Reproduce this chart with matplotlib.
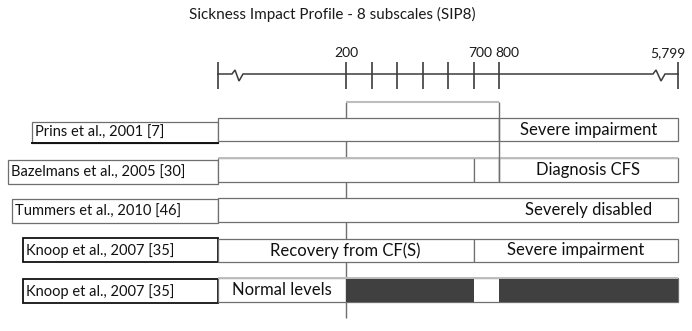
import numpy as np
import matplotlib
matplotlib.use("Agg")
import matplotlib.pyplot as plt
from matplotlib.patches import Rectangle

# ---------------- data ----------------
title = "Sickness Impact Profile - 8 subscales (SIP8)"
score_min, score_max = 0, 5799
minor_ticks = [200, 300, 400, 500, 600, 700, 800]
tick_labels = {200: "200", 700: "700", 800: "800", 5799: "5,799"}
studies = ["Prins et al., 2001 [7]", "Bazelmans et al., 2005 [30]",
           "Tummers et al., 2010 [46]", "Knoop et al., 2007 [35]",
           "Knoop et al., 2007 [35]"]
row_bounds = [[0, 800, 5799], [0, 700, 800, 5799], [0, 5799],
              [0, 700, 5799], [0, 200, 5799]]
row_texts = [[(800, 5799, "Severe impairment")],
             [(800, 5799, "Diagnosis CFS")],
             [(800, 5799, "Severely disabled")],
             [(0, 700, "Recovery from CF(S)"), (700, 5799, "Severe impairment")],
             [(0, 200, "Normal levels")]]
dark_segments = [(200, 700), (800, 5799)]   # last row
bracket = (200, 800)

# ---------------- layout ----------------
W, H = 692, 331
anchor_s = [0, 200, 800, 5799]
anchor_p = [218, 346, 499, 678]
sl_left = (anchor_p[1] - anchor_p[0]) / (anchor_s[1] - anchor_s[0])
sl_right = (anchor_p[3] - anchor_p[2]) / (anchor_s[3] - anchor_s[2])


def fwd(s):
    s = np.asarray(s, dtype=float)
    p = np.interp(s, anchor_s, anchor_p)
    p = np.where(s < anchor_s[0], anchor_p[0] + (s - anchor_s[0]) * sl_left, p)
    p = np.where(s > anchor_s[-1], anchor_p[-1] + (s - anchor_s[-1]) * sl_right, p)
    return p


def inv(p):
    p = np.asarray(p, dtype=float)
    s = np.interp(p, anchor_p, anchor_s)
    s = np.where(p < anchor_p[0], anchor_s[0] + (p - anchor_p[0]) / sl_left, s)
    s = np.where(p > anchor_p[-1], anchor_s[-1] + (p - anchor_p[-1]) / sl_right, s)
    return s


plt.rcParams['font.family'] = ['Lato', 'DejaVu Sans']
fig = plt.figure(figsize=(W / 100, H / 100), dpi=100)
fig.patch.set_facecolor("white")

deco = fig.add_axes([0, 0, 1, 1])
deco.set_xlim(0, W)
deco.set_ylim(H, 0)
deco.axis("off")

ax = fig.add_axes([0, 0, 1, 1])
ax.patch.set_alpha(0)
ax.set_xscale("function", functions=(fwd, inv))
ax.set_xlim(float(inv(0)), float(inv(W)))
ax.set_ylim(H, 0)
ax.axis("off")

line_c = "#3c3c3c"
box_c = "#6f6f6f"
light_c = "#bdbdbd"
row_y = [129.5, 170, 210, 250.5, 290]
row_h = 23.5
label_left = [32, 8, 12, 23, 23]
label_y = [132.5, 172, 211, 250, 291]
label_h = [21, 23.5, 23.5, 24, 24]
axis_y = 74

# title
deco.text(332, 14, title, ha="center", va="center", fontsize=11, color="#1a1a1a")

# axis line with breaks
x0, x1 = float(fwd(score_min)), float(fwd(score_max))
zz = [(x0, axis_y), (x0 + 14, axis_y), (x0 + 17, axis_y - 4), (x0 + 21, axis_y + 7),
      (x0 + 25, axis_y), (x1 - 25, axis_y), (x1 - 22, axis_y - 4),
      (x1 - 17, axis_y + 7), (x1 - 13, axis_y), (x1, axis_y)]
deco.plot([p[0] for p in zz], [p[1] for p in zz], color=line_c, lw=1.1,
          solid_joinstyle="miter")

# ticks
all_ticks = [score_min] + minor_ticks + [score_max]
ax.vlines(all_ticks, 62, 89, color=line_c, lw=1.2)
offsets = {200: 0, 700: 5, 800: 6, 5799: -7}
for s, lab in tick_labels.items():
    ax.annotate(lab, (s, 53), xytext=(offsets[s], 0), textcoords="offset points",
                ha="center", va="center", fontsize=10, color="#1a1a1a")

# bracket and reference lines
ax.hlines(102, bracket[0], bracket[1], color=light_c, lw=1.5, zorder=2)
ax.vlines(bracket[0], 102, 318, color=box_c, lw=1.0, zorder=1)
ax.vlines(bracket[1], 102, 182, color=box_c, lw=1.0, zorder=6)

# rows
for i, name in enumerate(studies):
    y = row_y[i]
    b = row_bounds[i]
    for lo, hi in zip(b[:-1], b[1:]):
        ax.barh(y, hi - lo, left=lo, height=row_h, color="white",
                edgecolor=box_c, lw=0.9, zorder=3)
    for lo, hi, txt in row_texts[i]:
        cx = float(inv((fwd(lo) + fwd(hi)) / 2))
        ax.text(cx, y, txt, ha="center", va="center", fontsize=12,
                color="#111111", zorder=7)
    # label box
    lx, ly, lh = label_left[i], label_y[i], label_h[i]
    knoop = i >= 3
    deco.add_patch(Rectangle((lx, ly - lh / 2), x0 - lx, lh, facecolor="white",
                             edgecolor="#111111" if knoop else box_c,
                             lw=1.3 if knoop else 0.9, zorder=3))
    if i == 0:
        deco.plot([lx, x0], [ly + lh / 2, ly + lh / 2], color="#111111",
                  lw=1.4, zorder=4)
    deco.text(lx + 3, ly + 0.5, name, ha="left", va="center", fontsize=10.5,
              color="#111111", zorder=4)

# lighter top edges on some rows (as in the original drawing)
for i in (1, 4):
    ax.hlines(row_y[i] - row_h / 2, score_min, score_max, color=light_c,
              lw=1.4, zorder=5)

# dark segments in last row
for lo, hi in dark_segments:
    ax.barh(row_y[-1], hi - lo, left=lo, height=row_h, color="#404040",
            edgecolor="none", zorder=4)

fig.savefig("out.png", dpi=100, facecolor="white")
